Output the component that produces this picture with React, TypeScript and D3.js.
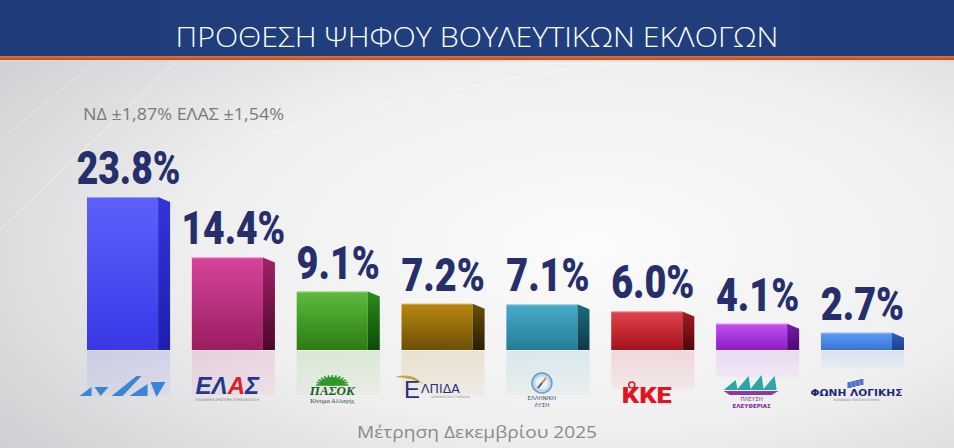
import React from "react";
import * as d3 from "d3";

const parties = ["ND", "ELAS", "PASOK", "ELPIDA", "LYSI", "KKE", "PLEFSI", "FONI"];
const values = [23.8, 14.4, 9.1, 7.2, 7.1, 6.0, 4.1, 2.7];
const valueLabels = ["23.8%", "14.4%", "9.1%", "7.2%", "7.1%", "6.0%", "4.1%", "2.7%"];
const frontTop = ["#5d60fa", "#d6449c", "#5cbb3f", "#b9870d", "#4aabc9", "#e0434b", "#c450f2", "#5a9bf1"];
const frontBottom = ["#3838e6", "#9a1d5f", "#2c7c10", "#6b4f06", "#237d97", "#a6111a", "#8a1dc6", "#3b74d8"];
const sideTop = ["#3434dc", "#a4206a", "#2b8c1a", "#6d4c08", "#1c6c82", "#a41a22", "#7c1ab2", "#2d5ec2"];
const sideBottom = ["#1e1eb0", "#4a0828", "#0e4a08", "#2a1e04", "#0c3a48", "#500808", "#4a0a70", "#1d3f90"];

const title = "ΠΡΟΘΕΣΗ ΨΗΦΟΥ ΒΟΥΛΕΥΤΙΚΩΝ ΕΚΛΟΓΩΝ";
const subtitle = "ΝΔ ±1,87% ΕΛΑΣ ±1,54%";
const footer = "Μέτρηση Δεκεμβρίου 2025";

const W = 954;
const H = 448;
const BASE = 350;
const SIDE = 12;
const LABEL_SIZE = 46;

function labelWidth(s: string) {
  let w = 0;
  for (const ch of s) {
    if (ch === ".") w += 0.22;
    else if (ch === "%") w += 0.7;
    else w += 0.445;
  }
  return w * LABEL_SIZE;
}

function Logo({ id, cx }: { id: string; cx: number }) {
  if (id === "ND") {
    const c = "#3b84d6";
    const x0 = cx - 47;
    return (
      <g fill={c}>
        <polygon points={`${x0 + 4},396 ${x0 + 16},387 ${x0 + 16},396`} />
        <polygon points={`${x0 + 19},387 ${x0 + 33},387 ${x0 + 25},396`} />
        <polygon points={`${x0 + 36},396 ${x0 + 61},376 ${x0 + 66},376 ${x0 + 47},396`} />
        <polygon points={`${x0 + 54},396 ${x0 + 72},384 ${x0 + 72},396`} />
        <polygon points={`${x0 + 75},382 ${x0 + 90},382 ${x0 + 81},397`} />
      </g>
    );
  }
  if (id === "ELAS") {
    return (
      <g>
        <text x={cx} y={394} textAnchor="middle" fontFamily="Liberation Sans, Arial, sans-serif" fontWeight={700} fontStyle="italic" fontSize={24} fill="#24368f">
          <tspan>ΕΛ</tspan>
          <tspan fill="#d8232e">Α</tspan>
          <tspan>Σ</tspan>
        </text>
        <text x={cx} y={401} textAnchor="middle" fontFamily="DejaVu Sans, sans-serif" fontSize={3.5} fill="#777">ΕΛΛΗΝΙΚΗ ΑΡΙΣΤΕΡΗ ΣΥΜΠΑΡΑΤΑΞΗ</text>
      </g>
    );
  }
  if (id === "PASOK") {
    const sun = d3.range(13).map((i) => {
      const a = Math.PI + (i / 12) * Math.PI;
      return [cx + Math.cos(a) * 16, 385 + Math.sin(a) * 10];
    });
    return (
      <g>
        <path d={`M${cx - 13},385 A13,8 0 0 1 ${cx + 13},385 Z`} fill="#2e9a2a" />
        {sun.map((p, i) => (
          <line key={i} x1={cx} y1={385} x2={p[0]} y2={p[1]} stroke="#2e9a2a" strokeWidth={1.6} />
        ))}
        <text x={cx} y={395} textAnchor="middle" fontFamily="Liberation Serif, serif" fontWeight={700} fontStyle="italic" fontSize={13} fill="#1d5b23">ΠΑΣΟΚ</text>
        <text x={cx} y={403} textAnchor="middle" fontFamily="Liberation Serif, serif" fontSize={6.5} fill="#2a4a2a">Κίνημα Αλλαγής</text>
      </g>
    );
  }
  if (id === "ELPIDA") {
    return (
      <g>
        <path d={`M${cx - 42},377 Q${cx - 25},372 ${cx - 14},384 Q${cx - 24},378 ${cx - 42},377 Z`} fill="#c9a23a" />
        <text x={cx - 33} y={398} fontFamily="Liberation Sans, sans-serif" fontSize={24} fill="#2a2f7a">Ε</text>
        <text x={cx - 16} y={393} fontFamily="DejaVu Sans, sans-serif" fontSize={12.5} fill="#2a2f7a">ΛΠΙΔΑ</text>
        <text x={cx - 6} y={398} fontFamily="DejaVu Sans, sans-serif" fontSize={3} fill="#888">ΔΗΜΟΚΡΑΤΙΚΗ ΣΥΜΜΑΧΙΑ</text>
      </g>
    );
  }
  if (id === "LYSI") {
    return (
      <g>
        <circle cx={cx} cy={383} r={10} fill="#bcd8ea" stroke="#6a9ac0" strokeWidth={1.5} />
        <circle cx={cx} cy={383} r={6.5} fill="#e8f1f8" />
        <line x1={cx - 4} y1={388} x2={cx + 4} y2={378} stroke="#e0702a" strokeWidth={1.6} />
        <line x1={cx - 4} y1={388} x2={cx} y2={383} stroke="#3a5a9a" strokeWidth={1.6} />
        <text x={cx} y={400} textAnchor="middle" fontFamily="DejaVu Sans, sans-serif" fontSize={5.5} fill="#3a4a6a">ΕΛΛΗΝΙΚΗ</text>
        <text x={cx} y={407} textAnchor="middle" fontFamily="DejaVu Sans, sans-serif" fontSize={5.5} fill="#3a4a6a">ΛΥΣΗ</text>
      </g>
    );
  }
  if (id === "KKE") {
    return (
      <g>
        <text x={cx} y={403} textAnchor="middle" fontFamily="Roboto, Liberation Sans, sans-serif" fontWeight={900} fontSize={22} fill="#e3141f" textLength={50} lengthAdjust="spacingAndGlyphs">ΚΚΕ</text>
        <circle cx={cx - 15} cy={385} r={3} fill="none" stroke="#e3141f" strokeWidth={1.5} />
      </g>
    );
  }
  if (id === "PLEFSI") {
    const s = (x: number, h: number) => `${x},390 ${x + 12},${390 - h} ${x + 14},390`;
    return (
      <g>
        <polygon points={s(cx - 28, 10)} fill="#2aa6a6" />
        <polygon points={s(cx - 15, 14)} fill="#2aa6a6" />
        <polygon points={s(cx - 2, 15)} fill="#2aa6a6" />
        <polygon points={s(cx + 11, 14)} fill="#2aa6a6" />
        <path d={`M${cx - 28},391 L${cx + 27},391 L${cx + 20},395 L${cx - 22},395 Z`} fill="#8a3aa8" />
        <text x={cx} y={401} textAnchor="middle" fontFamily="DejaVu Sans, sans-serif" fontSize={5.5} fill="#7a2a9a">ΠΛΕΥΣΗ</text>
        <text x={cx} y={408} textAnchor="middle" fontFamily="DejaVu Sans, sans-serif" fontSize={5.5} fontWeight={700} fill="#7a2a9a">ΕΛΕΥΘΕΡΙΑΣ</text>
      </g>
    );
  }
  if (id === "FONI") {
    return (
      <g>
        {d3.range(4).map((i) => (
          <rect key={i} x={cx - 9 + i * 4} y={382 - i * 1} width={4} height={6} fill="#3a5ac8" opacity={0.85} />
        ))}
        <text x={cx} y={396} textAnchor="middle" fontFamily="DejaVu Sans, sans-serif" fontWeight={700} fontSize={8} fill="#1d2a78" textLength={92} lengthAdjust="spacingAndGlyphs">ΦΩΝΗ ΛΟΓΙΚΗΣ</text>
        <text x={cx} y={401} textAnchor="middle" fontFamily="DejaVu Sans, sans-serif" fontSize={3} fill="#889">ΚΟΙΝΩΝΙΚΟ ΠΟΛΙΤΙΚΟ ΚΙΝΗΜΑ</text>
      </g>
    );
  }
  return null;
}

export default function App() {
  const x = d3.scaleBand<string>().domain(parties).range([87, 892]).paddingInner(0.322).paddingOuter(0);
  const y = d3.scaleLinear().domain([0, 23.8]).range([BASE, 197]);
  const bw = x.bandwidth();

  return (
    <svg width={W} height={H} style={{ position: "absolute", left: 0, top: 0, display: "block" }} xmlns="http://www.w3.org/2000/svg">
      <defs>
        <radialGradient id="bg" cx="0.62" cy="0.55" r="0.75">
          <stop offset="0" stopColor="#fbfbfb" />
          <stop offset="0.55" stopColor="#efefef" />
          <stop offset="1" stopColor="#cfd0d3" />
        </radialGradient>
        <linearGradient id="hdr" x1="0" x2="1" y1="0" y2="0">
          <stop offset="0" stopColor="#1f3c7a" />
          <stop offset="0.5" stopColor="#213f7e" />
          <stop offset="1" stopColor="#1f3c7a" />
        </linearGradient>
        <linearGradient id="orange" x1="0" x2="0" y1="0" y2="1">
          <stop offset="0" stopColor="#e0743a" />
          <stop offset="1" stopColor="#b84d22" />
        </linearGradient>
        {parties.map((p, i) => (
          <React.Fragment key={p}>
            <linearGradient id={`f${i}`} x1="0" x2="0" y1="0" y2="1">
              <stop offset="0" stopColor={frontTop[i]} />
              <stop offset="1" stopColor={frontBottom[i]} />
            </linearGradient>
            <linearGradient id={`s${i}`} x1="0" x2="0" y1="0" y2="1">
              <stop offset="0" stopColor={sideTop[i]} />
              <stop offset="1" stopColor={sideBottom[i]} />
            </linearGradient>
            <linearGradient id={`r${i}`} x1="0" x2="0" y1="0" y2="1">
              <stop offset="0" stopColor={frontTop[i]} stopOpacity={0.16} />
              <stop offset="1" stopColor={frontTop[i]} stopOpacity={0.05} />
            </linearGradient>
          </React.Fragment>
        ))}
      </defs>

      <rect x={0} y={0} width={W} height={H} fill="url(#bg)" />
      <g stroke="#ffffff" strokeOpacity={0.55} strokeWidth={1} fill="none">
        <path d="M0,230 L175,62" />
        <path d="M0,140 L95,62" strokeOpacity={0.35} />
        <path d="M120,175 Q400,90 620,62" strokeOpacity={0.3} />
      </g>

      <rect x={0} y={0} width={W} height={56} fill="url(#hdr)" />
      <rect x={0} y={56} width={W} height={4} fill="url(#orange)" />
      <rect x={0} y={60} width={W} height={2} fill="#d9d9d9" opacity={0.6} />
      <text x={W / 2} y={47} textAnchor="middle" fontFamily="Open Sans, Noto Sans, sans-serif" fontWeight={300} fontSize={28} fill="#ffffff" textLength={603} lengthAdjust="spacingAndGlyphs">
        {title}
      </text>

      <text x={83} y={120} fontFamily="Open Sans, Noto Sans, sans-serif" fontSize={16.5} fill="#7a7a7a" textLength={201} lengthAdjust="spacingAndGlyphs">
        {subtitle}
      </text>

      {parties.map((p, i) => {
        const x0 = x(p)!;
        const top = y(values[i]);
        const h = BASE - top;
        const rh = Math.min(h, 44);
        return (
          <g key={p}>
            <rect x={x0} y={BASE + 1} width={bw + SIDE} height={rh} fill={`url(#r${i})`} />
            <rect x={x0} y={top} width={bw} height={h} fill={`url(#f${i})`} />
            <polygon points={`${x0 + bw},${top} ${x0 + bw + SIDE},${top + 5} ${x0 + bw + SIDE},${BASE} ${x0 + bw},${BASE}`} fill={`url(#s${i})`} />
            <line x1={x0} x2={x0 + bw} y1={top + 0.5} y2={top + 0.5} stroke="#ffffff" strokeOpacity={0.35} />
            <text x={x0 + (bw + SIDE) / 2} y={top - 13} textAnchor="middle" fontFamily="Roboto, Liberation Sans, sans-serif" fontWeight={900} fontSize={LABEL_SIZE} fill="#262f6c" textLength={labelWidth(valueLabels[i])} lengthAdjust="spacingAndGlyphs">
              {valueLabels[i]}
            </text>
            <Logo id={p} cx={x0 + bw / 2} />
          </g>
        );
      })}

      <text x={W / 2} y={438} textAnchor="middle" fontFamily="Open Sans, Noto Sans, sans-serif" fontSize={16.5} fill="#8a8a8a" textLength={240} lengthAdjust="spacingAndGlyphs">
        {footer}
      </text>
    </svg>
  );
}
